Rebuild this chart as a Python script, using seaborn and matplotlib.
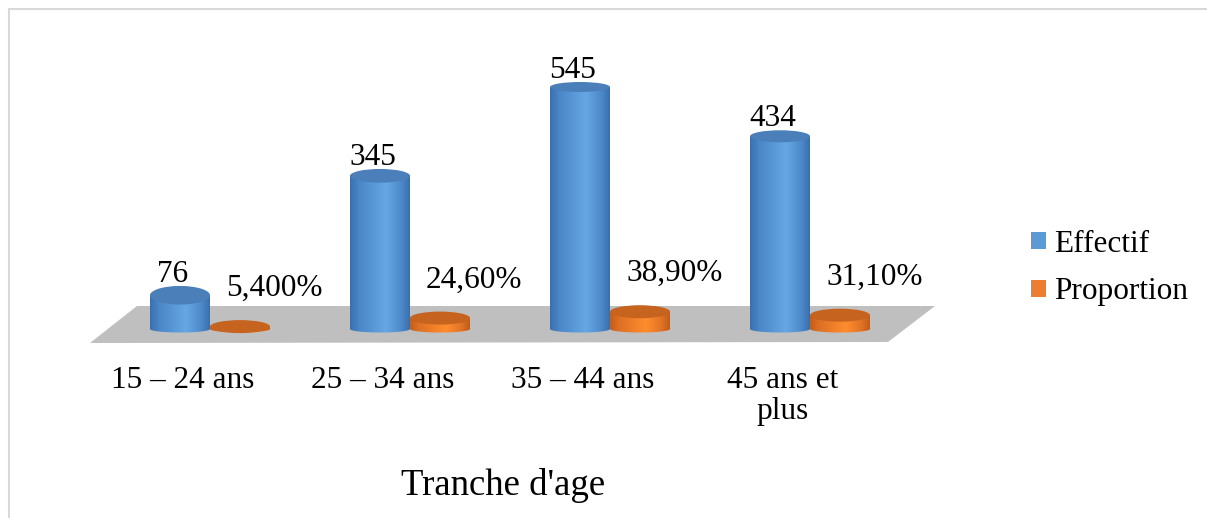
import numpy as np
import pandas as pd
import seaborn as sns
import matplotlib
matplotlib.use("Agg")
import matplotlib.pyplot as plt
from matplotlib.patches import Ellipse, Polygon, Patch, Rectangle
from matplotlib.colors import LinearSegmentedColormap
import matplotlib.transforms as mtransforms

# ---------------- data ----------------
categories = ["15 – 24 ans", "25 – 34 ans", "35 – 44 ans", "45 ans et\nplus"]
series = ["Effectif", "Proportion"]
effectif = [76, 345, 545, 434]
proportion = [5.4, 24.6, 38.9, 31.1]
effectif_labels = ["76", "345", "545", "434"]
proportion_labels = ["5,400%", "24,60%", "38,90%", "31,10%"]
x_title = "Tranche d'age"

df = pd.DataFrame({
    "Tranche": categories * 2,
    "Valeur": effectif + proportion,
    "Serie": [series[0]] * len(categories) + [series[1]] * len(categories),
})

# ---------------- style ----------------
sns.set_theme(style="white")
plt.rcParams['font.family'] = ['Liberation Serif', 'DejaVu Serif']
plt.rcParams['text.color'] = 'black'
FS = 22.5

W, H = 1207, 518
fig = plt.figure(figsize=(W / 100, H / 100), dpi=100)
ax = fig.add_axes([0, 0, 1, 1])

palette = ["#5B9BD5", "#ED7D31"]
sns.barplot(data=df, x="Tranche", y="Valeur", hue="Serie", palette=palette,
            width=0.6, ax=ax, legend=False)

# axis mapping (layout)
k = 242 / 545.0              # px per data unit in y
x0px, xstep = 210, 200       # px of first group centre, px per category
base_px = 329
ax.set_xlim(-x0px / xstep, (W - x0px) / xstep)
ax.set_ylim(-(H - base_px) / k, base_px / k)
ax.axis("off")

# floor (axes fraction)
floor_px = [(90, 343), (888, 342), (935, 306), (137, 306)]
floor = Polygon([(x / W, 1 - y / H) for x, y in floor_px], closed=True,
                transform=ax.transAxes, facecolor="#BFBFBF", edgecolor="none", zorder=0.5)
ax.add_patch(floor)

side_cmaps = [
    LinearSegmentedColormap.from_list("b", [(0, "#3A6FAE"), (0.15, "#4A86C8"), (0.6, "#66A7E3"),
                                            (0.85, "#4E8ACB"), (1, "#3A6EAA")]),
    LinearSegmentedColormap.from_list("o", [(0, "#C45E1A"), (0.15, "#DE7024"), (0.6, "#FF8C2E"),
                                            (0.85, "#E27427"), (1, "#C05C1A")]),
]
top_colors = ["#4A7FBA", "#C5631F"]
grad = np.linspace(0, 1, 256).reshape(1, -1)

for si, cont in enumerate(ax.containers):
    for bi, p in enumerate(cont.patches):
        p.set_visible(False)
        xl = p.get_x()
        w = p.get_width()
        h = p.get_height()
        cx = xl + w / 2
        if si == 0:
            eh_px = 20 - 10 * h / 545.0
        else:
            eh_px = 13
        eh = eh_px / k
        ebot = 7 / k
        th = np.linspace(np.pi, 2 * np.pi, 60)
        bottom = [(cx + w / 2 * np.cos(t), ebot / 2 * np.sin(t)) for t in th]
        verts = [(xl, h)] + bottom + [(xl + w, h)]
        clip = Polygon(verts, closed=True, facecolor="none", edgecolor="none",
                       transform=ax.transData)
        ax.add_patch(clip)
        im = ax.imshow(grad, cmap=side_cmaps[si], extent=[xl, xl + w, -ebot / 2, h],
                       aspect="auto", zorder=2, interpolation="bicubic")
        im.set_clip_path(clip)
        ax.add_patch(Ellipse((cx, h), w, eh, facecolor=top_colors[si],
                             edgecolor="none", zorder=2.1))
        # value labels
        if si == 0:
            off = mtransforms.offset_copy(ax.transData, fig=fig, x=-7 * 0.72,
                                          y=(eh_px / 2 + 4) * 0.72, units="points")
            ax.text(cx, h, effectif_labels[bi], transform=off, ha="center",
                    va="baseline", fontsize=FS, color="black", zorder=5)
        else:
            off = mtransforms.offset_copy(ax.transData, fig=fig, x=-14 * 0.72,
                                          y=(eh_px / 2 + 24) * 0.72, units="points")
            ax.text(cx, h, proportion_labels[bi], transform=off, ha="left",
                    va="baseline", fontsize=FS, color="black", zorder=5)

# category labels
blend = mtransforms.blended_transform_factory(ax.transData, ax.transAxes)
for i, c in enumerate(categories):
    ax.text(i - 27 / xstep, 1 - 366 / H, c, transform=blend, ha="center", va="top",
            fontsize=FS, color="black", linespacing=1.1, multialignment="center")

ax.set_xlim(-x0px / xstep, (W - x0px) / xstep)
ax.set_ylim(-(H - base_px) / k, base_px / k)

# axis title
fig.text(503 / W, 1 - 495 / H, x_title, ha="center", va="baseline", fontsize=26.5, color="black")

# legend
handles = [Patch(facecolor=c, edgecolor="none") for c in palette]
leg = fig.legend(handles, series, loc="center left", bbox_to_anchor=(1031 / W, 1 - 268 / H),
                 frameon=False, fontsize=FS, handlelength=0.48, handleheight=0.48,
                 handletextpad=0.26, labelspacing=0.6, borderpad=0, borderaxespad=0,
                 labelcolor="black")

# chart border
fig.add_artist(Rectangle((8.5 / W, -0.1), 1.2, 1.1 - 9.5 / H, transform=fig.transFigure,
                         facecolor="none", edgecolor="#D9D9D9", lw=1.5))

fig.savefig("out.png", dpi=100)
